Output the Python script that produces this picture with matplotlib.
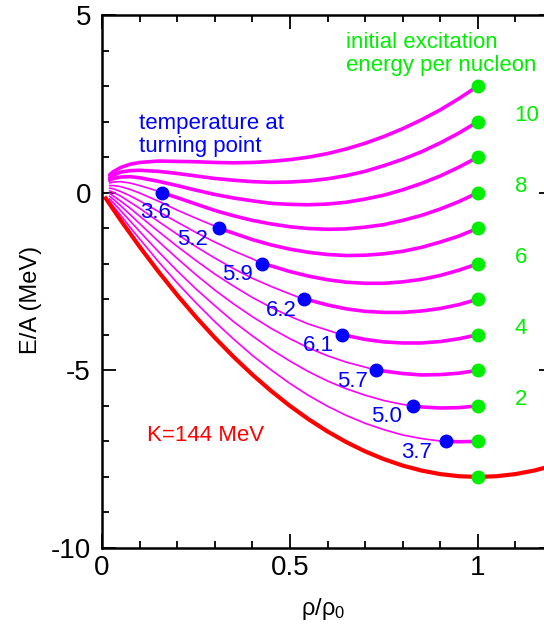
import matplotlib
matplotlib.use('Agg')
import matplotlib.pyplot as plt
from matplotlib.ticker import MultipleLocator

plt.rcParams['font.family'] = ['Liberation Sans', 'DejaVu Sans']
plt.rcParams['mathtext.fontset'] = 'custom'
plt.rcParams['mathtext.rm'] = 'Liberation Sans'
plt.rcParams['axes.unicode_minus'] = False

# density points (rho/rho0) for the isentropic expansion curves
rho = [0.02, 0.03, 0.05, 0.075, 0.1, 0.15, 0.2, 0.25, 0.3, 0.35, 0.4, 0.45, 0.5,
       0.55, 0.6, 0.65, 0.7, 0.75, 0.8, 0.85, 0.9, 0.95, 1.0]

# E/A along each curve, initial excitation 1..11 MeV per nucleon
e01 = [-0.24, -0.38, -0.64, -0.98, -1.30, -1.94, -2.54, -3.10, -3.63, -4.12, -4.58, -4.99, -5.37,
       -5.71, -6.01, -6.27, -6.49, -6.67, -6.82, -6.92, -6.99, -7.01, -7.0]
e02 = [-0.17, -0.28, -0.51, -0.80, -1.09, -1.66, -2.20, -2.71, -3.18, -3.63, -4.03, -4.41, -4.74,
       -5.04, -5.30, -5.52, -5.70, -5.85, -5.96, -6.03, -6.06, -6.05, -6.0]
e03 = [-0.10, -0.18, -0.37, -0.62, -0.87, -1.37, -1.85, -2.31, -2.74, -3.13, -3.49, -3.82, -4.11,
       -4.37, -4.59, -4.77, -4.91, -5.02, -5.09, -5.13, -5.12, -5.08, -5.0]
e04 = [-0.02, -0.09, -0.24, -0.44, -0.66, -1.09, -1.51, -1.91, -2.29, -2.63, -2.95, -3.23, -3.48,
       -3.70, -3.87, -4.02, -4.13, -4.20, -4.23, -4.23, -4.19, -4.11, -4.0]
e05 = [0.05, 0.01, -0.10, -0.27, -0.44, -0.81, -1.17, -1.52, -1.84, -2.14, -2.41, -2.64, -2.85,
       -3.02, -3.16, -3.27, -3.34, -3.37, -3.37, -3.33, -3.26, -3.15, -3.0]
e06 = [0.13, 0.11, 0.03, -0.09, -0.23, -0.53, -0.83, -1.12, -1.39, -1.64, -1.86, -2.06, -2.22,
       -2.35, -2.45, -2.52, -2.55, -2.55, -2.51, -2.44, -2.33, -2.18, -2.0]
e07 = [0.20, 0.20, 0.17, 0.09, -0.01, -0.24, -0.49, -0.72, -0.94, -1.14, -1.32, -1.47, -1.59,
       -1.68, -1.74, -1.77, -1.76, -1.72, -1.65, -1.54, -1.39, -1.22, -1.0]
e08 = [0.27, 0.30, 0.31, 0.27, 0.20, 0.04, -0.14, -0.32, -0.50, -0.65, -0.78, -0.88, -0.96,
       -1.01, -1.03, -1.02, -0.97, -0.90, -0.78, -0.64, -0.46, -0.25, 0.0]
e09 = [0.35, 0.40, 0.44, 0.45, 0.42, 0.32, 0.20, 0.07, -0.05, -0.15, -0.23, -0.30, -0.33,
       -0.34, -0.32, -0.27, -0.18, -0.07, 0.08, 0.26, 0.47, 0.72, 1.0]
e10 = [0.42, 0.49, 0.58, 0.62, 0.63, 0.60, 0.54, 0.47, 0.40, 0.35, 0.31, 0.29, 0.30,
       0.33, 0.39, 0.48, 0.60, 0.76, 0.94, 1.15, 1.40, 1.68, 2.0]
e11 = [0.50, 0.59, 0.71, 0.80, 0.85, 0.89, 0.88, 0.87, 0.85, 0.84, 0.85, 0.88, 0.93,
       1.00, 1.10, 1.23, 1.39, 1.58, 1.80, 2.05, 2.33, 2.65, 3.0]

# turning points (blue dots) and temperatures there
turn_rho = [0.915, 0.827, 0.73, 0.638, 0.537, 0.426, 0.31, 0.16]
turn_E = [-7.0, -6.0, -5.0, -4.0, -3.0, -2.0, -1.0, 0.0]
turn_T = ['3.7', '5.0', '5.7', '6.1', '6.2', '5.9', '5.2', '3.6']

# ground state, K = 144 MeV
ground_rho = [0.01, 0.05, 0.1, 0.15, 0.2, 0.25, 0.3, 0.35, 0.4, 0.45, 0.5, 0.55, 0.6,
              0.65, 0.7, 0.75, 0.8, 0.85, 0.9, 0.95, 1.0, 1.05, 1.1, 1.15, 1.2]
ground_E = [-0.16, -0.78, -1.52, -2.22, -2.88, -3.5, -4.08, -4.62, -5.12, -5.58, -6.0, -6.38, -6.72,
            -7.02, -7.28, -7.5, -7.68, -7.82, -7.92, -7.98, -8.0, -7.98, -7.92, -7.82, -7.68]

# initial states at normal density
start_E = [-8, -7, -6, -5, -4, -3, -2, -1, 0, 1, 2, 3]
exc_labels = ['10', '8', '6', '4', '2']
exc_label_E = [2, 0, -2, -4, -6]

magenta = '#ff00ff'
blue = '#0000ff'
green = '#00ee00'
red = '#ff0000'

fig = plt.figure(figsize=(5.44, 6.28), dpi=100)
ax = fig.add_axes([102 / 544, 80 / 628, 451 / 544, 533 / 628])

curves = [e01, e02, e03, e04, e05, e06, e07, e08, e09, e10, e11]
for i, e in enumerate(curves):
    if i < len(turn_rho):
        tx, ty = turn_rho[i], turn_E[i]
        x_thin = [r for r in rho if r < tx] + [tx]
        y_thin = [v for r, v in zip(rho, e) if r < tx] + [ty]
        x_thick = [tx] + [r for r in rho if r > tx]
        y_thick = [ty] + [v for r, v in zip(rho, e) if r > tx]
        ax.plot(x_thin, y_thin, color=magenta, lw=1.2, solid_capstyle='round')
        ax.plot(x_thick, y_thick, color=magenta, lw=2.6, solid_capstyle='round')
    else:
        ax.plot(rho, e, color=magenta, lw=2.6, solid_capstyle='round')

ax.plot(ground_rho, ground_E, color=red, lw=3)

ax.plot([1.0] * len(start_E), start_E, 'o', color=green, ms=9, zorder=5)
ax.plot(turn_rho, turn_E, 'o', color=blue, ms=9, zorder=5)

offsets = [(-21, -8), (-19, -8), (-17, -8), (-17, -8), (-16, -8), (-18, -8), (-19, -8), (-5, -14)]
for x, y, t, off in zip(turn_rho, turn_E, turn_T, offsets):
    ax.annotate(t, (x, y), xytext=off, textcoords='offset points',
                ha='center', va='center', color=blue, fontsize=16)

for t, y in zip(exc_labels, exc_label_E):
    ax.text(1.098, y + 0.17, t, color=green, fontsize=16, ha='left', va='center')

ax.text(0.649, 3.9, 'initial excitation\nenergy per nucleon', color=green,
        fontsize=16, ha='left', va='center', linespacing=1.1)
ax.text(0.098, 1.63, 'temperature at\nturning point', color=blue,
        fontsize=16, ha='left', va='center', linespacing=1.1)
ax.text(0.12, -6.82, 'K=144 MeV', color=red, fontsize=16, ha='left', va='center')

ax.set_xlim(0, 1.2)
ax.set_ylim(-10, 5)
ax.xaxis.set_minor_locator(MultipleLocator(0.1))
ax.yaxis.set_minor_locator(MultipleLocator(1))
ax.set_xticks([0, 0.5, 1])
ax.set_xticklabels(['0', '0.5', '1'])
ax.set_yticks([-10, -5, 0, 5])
ax.set_yticklabels(['-10', '-5', '0', '5'])
ax.tick_params(which='both', direction='in', top=True, right=True, labelsize=20, width=1.3)
ax.tick_params(axis='x', pad=5)
ax.tick_params(axis='y', pad=8)
ax.tick_params(which='major', length=10)
ax.tick_params(which='minor', length=5)
for s in ax.spines.values():
    s.set_linewidth(1.8)

ax.set_xlabel(r'ρ/ρ$\mathregular{_0}$', fontsize=17)
ax.set_ylabel('E/A (MeV)', fontsize=17)
ax.xaxis.set_label_coords(0.49, -0.09)
ax.yaxis.set_label_coords(-0.133, 0.465)

fig.savefig('out.png', dpi=100)
